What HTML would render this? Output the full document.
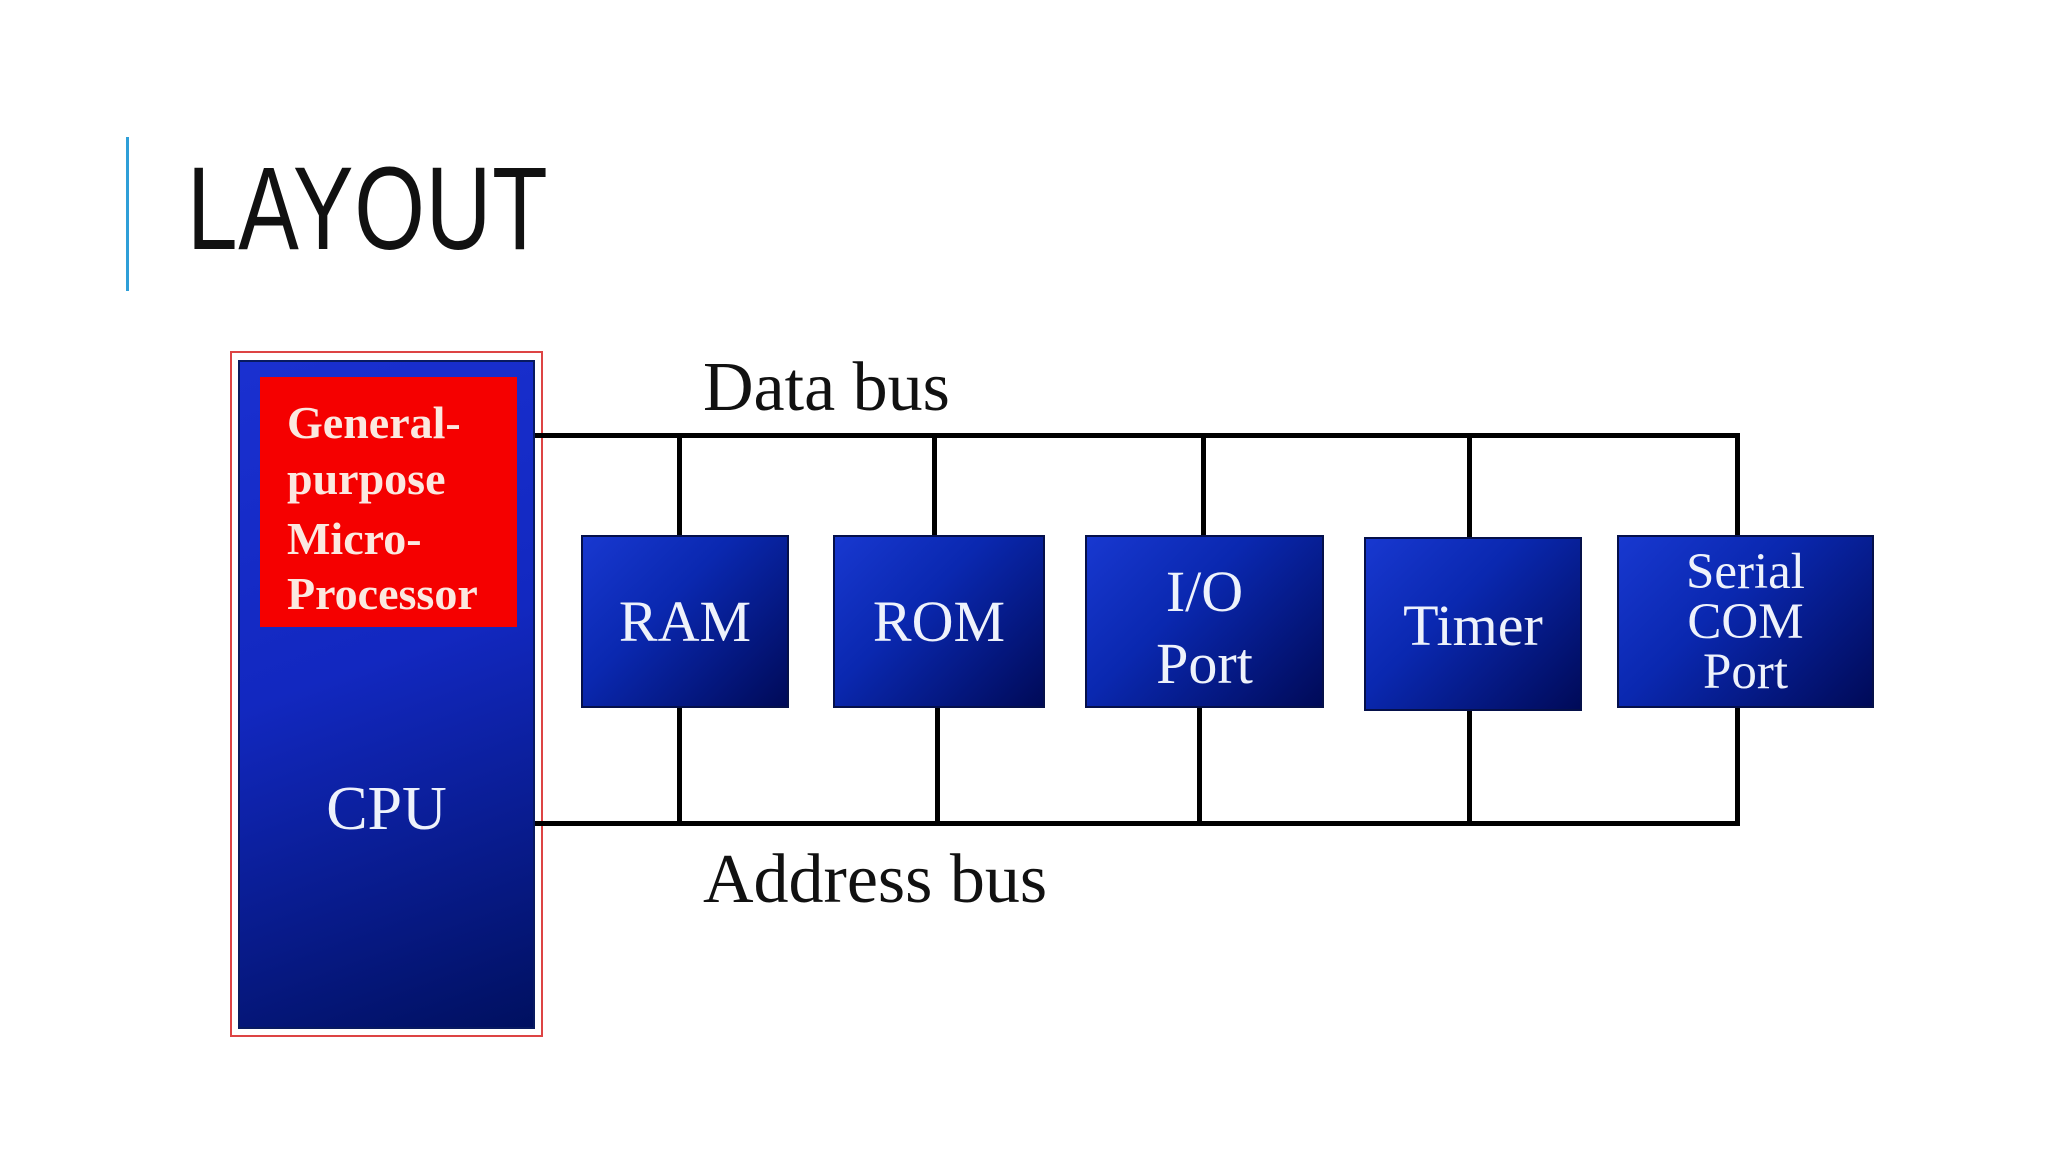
<!DOCTYPE html>
<html><head><meta charset="utf-8"><style>
html,body{margin:0;padding:0;background:#fff;}
body{width:2048px;height:1152px;position:relative;overflow:hidden;font-family:"Liberation Serif",serif;}
.a{position:absolute;}
.bar{left:126px;top:137px;width:3px;height:154px;background:#2e9fd8;}
.title{left:187px;top:150px;font-family:"Liberation Sans",sans-serif;font-size:118px;line-height:118px;color:#111;transform:scaleX(0.77);transform-origin:0 0;letter-spacing:1px;}
.box{position:absolute;background:linear-gradient(135deg,#1838d0 0%,#0a28b0 40%,#000a58 100%);border:2px solid #05104a;box-sizing:border-box;color:#eef2fb;text-align:center;font-size:58px;}
.t{position:absolute;left:0;width:100%;white-space:nowrap;}
.ln{position:absolute;background:#000;}
</style></head><body>
<div class="a bar"></div>
<div class="a title">LAYOUT</div>

<div class="a" style="left:230px;top:351px;width:313px;height:686px;border:2px solid #d44;box-sizing:border-box;"></div>
<div class="a" style="left:238px;top:360px;width:297px;height:669px;background:linear-gradient(160deg,#1a30d0 0%,#1228c0 45%,#001060 100%);border:2px solid #081a60;box-sizing:border-box;"></div>
<div class="a" style="left:260px;top:377px;width:257px;height:250px;background:#f50000;"></div>
<div class="a" style="left:287px;top:395px;color:#fbe8e0;font-size:46px;font-weight:bold;line-height:56px;">
<div style="height:56px">General-</div><div style="height:60px">purpose</div><div style="height:55px">Micro-</div><div>Processor</div></div>
<div class="a" style="left:238px;top:778px;width:297px;text-align:center;color:#eef2fb;font-size:62px;line-height:62px;">CPU</div>

<div class="a" style="left:703px;top:348px;font-size:70px;line-height:80px;color:#111;">Data bus</div>
<div class="a" style="left:703px;top:840px;font-size:70px;line-height:80px;color:#111;">Address bus</div>

<div class="ln" style="left:535px;top:433px;width:1205px;height:5px;"></div>
<div class="ln" style="left:535px;top:821px;width:1205px;height:5px;"></div>
<div class="ln" style="left:677px;top:433px;width:5px;height:104px;"></div>
<div class="ln" style="left:932px;top:433px;width:5px;height:104px;"></div>
<div class="ln" style="left:1201px;top:433px;width:5px;height:104px;"></div>
<div class="ln" style="left:1467px;top:433px;width:5px;height:106px;"></div>
<div class="ln" style="left:1735px;top:433px;width:5px;height:104px;"></div>
<div class="ln" style="left:677px;top:706px;width:5px;height:118px;"></div>
<div class="ln" style="left:935px;top:706px;width:5px;height:118px;"></div>
<div class="ln" style="left:1197px;top:706px;width:5px;height:118px;"></div>
<div class="ln" style="left:1467px;top:709px;width:5px;height:115px;"></div>
<div class="ln" style="left:1735px;top:706px;width:5px;height:118px;"></div>

<div class="box" style="left:581px;top:535px;width:208px;height:173px;"><div class="t" style="top:50px;line-height:70px;">RAM</div></div>
<div class="box" style="left:833px;top:535px;width:212px;height:173px;"><div class="t" style="top:50px;line-height:70px;">ROM</div></div>
<div class="box" style="left:1085px;top:535px;width:239px;height:173px;"><div class="t" style="top:19px;line-height:72px;">I/O<br>Port</div></div>
<div class="box" style="left:1364px;top:537px;width:218px;height:174px;"><div class="t" style="top:52px;line-height:70px;">Timer</div></div>
<div class="box" style="left:1617px;top:535px;width:257px;height:173px;font-size:51px;"><div class="t" style="top:10px;line-height:50px;">Serial<br>COM<br>Port</div></div>
</body></html>
